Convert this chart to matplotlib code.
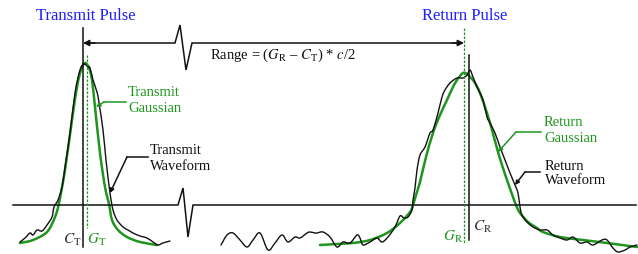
import matplotlib
matplotlib.use("Agg")
import matplotlib.pyplot as plt
from matplotlib.path import Path
from matplotlib.patches import PathPatch

plt.rcParams['font.family'] = ['Liberation Serif', 'DejaVu Serif']
plt.rcParams['mathtext.fontset'] = 'stix'

# ---- data (in picture units) ----
transmit_wave_x = [20, 25, 30, 33, 37, 42, 47, 52, 54, 58, 62, 65, 70, 75, 80, 84, 88, 90, 93, 97,
                   99, 103, 106, 110, 113, 117, 123, 128, 133, 140, 147, 153, 158, 163, 170]
transmit_wave_y = [242, 238, 233, 235, 230, 231, 225, 217, 207, 200, 187, 167, 133, 93, 70, 64, 67, 68, 80, 92,
                   103, 130, 160, 193, 210, 220, 227, 230, 233, 236, 238, 242, 245, 243, 241]

transmit_gauss_x = [20, 33, 47, 55, 59, 65, 72, 77, 81, 85, 89, 92, 95, 100, 105, 109, 112, 118, 127, 140, 157]
transmit_gauss_y = [243, 240, 232, 217, 203, 170, 120, 87, 70, 63, 68, 80, 107, 153, 187, 204, 220, 230, 237, 242, 245]

return_wave_x = [221, 227, 233, 240, 247, 253, 260, 268, 275, 282, 288, 295, 300, 307, 310, 315, 317, 323, 330,
                 337, 343, 350, 357, 360, 363, 370, 377, 382, 388, 395, 400, 404, 408, 412, 413, 415, 417, 420, 425,
                 430, 433, 438, 442, 445, 450, 457, 463, 467, 470, 473, 477, 480, 483, 487, 490, 495, 500, 505,
                 510, 515, 518, 520, 522, 527, 533, 540, 547, 553, 560, 567, 573, 580, 587, 593, 602, 607, 613,
                 618, 625, 630, 637]
return_wave_y = [245, 235, 233, 240, 247, 240, 233, 250, 243, 235, 242, 237, 238, 233, 232, 233, 233, 232, 237,
                 247, 242, 243, 235, 238, 245, 242, 238, 242, 237, 227, 216, 218, 217, 210, 200, 188, 170, 155, 147,
                 133, 130, 113, 97, 90, 83, 78, 78, 75, 70, 77, 87, 93, 100, 117, 123, 133, 147, 160,
                 173, 185, 193, 207, 215, 222, 227, 230, 230, 235, 238, 240, 237, 243, 242, 245, 240, 240, 248,
                 252, 250, 247, 245]

return_gauss_x = [320, 337, 353, 370, 387, 400, 410, 413, 416, 420, 426, 433, 440, 447, 452, 457, 463, 467, 471,
                  475, 480, 487, 492, 498, 503, 507, 513, 516, 520, 528, 537, 543, 560, 583, 607, 637]
return_gauss_y = [245, 244, 243, 240, 233, 223, 212, 205, 195, 182, 157, 133, 115, 100, 89, 80, 73, 74, 78,
                  83, 93, 113, 130, 152, 168, 180, 197, 205, 213, 222, 228, 232, 237, 240, 243, 247]

# ---- figure ----
fig = plt.figure(figsize=(6.38, 2.54), dpi=100)
ax = fig.add_axes([0, 0, 1, 1])
ax.set_xlim(0, 638)
ax.set_ylim(254, 0)
ax.axis('off')

green = '#1e961e'
blue = '#1f1fff'
black = '#111111'


def smooth_curve(xs, ys, color, lw):
    """Draw a Catmull-Rom style cubic Bezier path through the read points."""
    pts = list(zip(xs, ys))
    n = len(pts)
    verts = [pts[0]]
    codes = [Path.MOVETO]
    for i in range(n - 1):
        p0 = pts[max(i - 1, 0)]
        p1 = pts[i]
        p2 = pts[i + 1]
        p3 = pts[min(i + 2, n - 1)]
        c1 = (p1[0] + (p2[0] - p0[0]) / 6.0, p1[1] + (p2[1] - p0[1]) / 6.0)
        c2 = (p2[0] - (p3[0] - p1[0]) / 6.0, p2[1] - (p3[1] - p1[1]) / 6.0)
        verts += [c1, c2, p2]
        codes += [Path.CURVE4] * 3
    ax.add_patch(PathPatch(Path(verts, codes), facecolor='none', edgecolor=color, lw=lw,
                           joinstyle='round', capstyle='round'))


# baseline with break
ax.plot([13, 178, 183, 188, 193, 636], [205, 205, 188, 237, 205, 205], color=black, lw=1.1,
        solid_joinstyle='miter')
# range arrow line with break
ax.plot([86, 175, 180, 186, 192, 461], [43, 43, 25, 70, 43, 43], color=black, lw=1.1,
        solid_joinstyle='miter')
ax.annotate('', xy=(83, 43), xytext=(95, 43),
            arrowprops=dict(arrowstyle='-|>', color=black, lw=1.1, mutation_scale=9,
                            shrinkA=0, shrinkB=0))
ax.annotate('', xy=(464, 43), xytext=(452, 43),
            arrowprops=dict(arrowstyle='-|>', color=black, lw=1.1, mutation_scale=9,
                            shrinkA=0, shrinkB=0))

# vertical marker lines
ax.plot([82.5, 82.5], [28, 247], color=black, lw=1.1)
ax.plot([86.5, 86.5], [55, 228], color=green, lw=0.9, dashes=(2, 1.2))
ax.plot([469, 469], [55, 240], color=black, lw=1.1)
ax.plot([463.5, 463.5], [28, 243], color=green, lw=0.9, dashes=(2, 1.2))

# curves
smooth_curve(transmit_gauss_x, transmit_gauss_y, green, 1.8)
smooth_curve(transmit_wave_x, transmit_wave_y, black, 1.0)
smooth_curve(return_gauss_x, return_gauss_y, green, 1.8)
smooth_curve(return_wave_x, return_wave_y, black, 1.0)


# leaders
def leader(tip, elbow, end, color):
    ax.plot([elbow[0], end[0]], [elbow[1], end[1]], color=color, lw=1.1)
    ax.annotate('', xy=tip, xytext=elbow,
                arrowprops=dict(arrowstyle='-|>', color=color, lw=1.1, mutation_scale=6,
                                shrinkA=0, shrinkB=0))


leader((96, 107), (104, 102), (126, 102), green)
leader((110, 193), (127, 157), (148, 157), black)
leader((498, 152), (516, 132), (541, 132), green)
leader((515, 185), (525, 172), (540, 172), black)

fs = 10.5
ax.text(128, 93, 'Transmit', color=green, fontsize=fs, va='center', ha='left')
ax.text(128, 108, 'Gaussian', color=green, fontsize=fs, va='center', ha='left')
ax.text(150, 150, 'Transmit', color=black, fontsize=fs, va='center', ha='left')
ax.text(150, 166, 'Waveform', color=black, fontsize=fs, va='center', ha='left')
ax.text(544, 123, 'Return', color=green, fontsize=fs, va='center', ha='left')
ax.text(544, 138, 'Gaussian', color=green, fontsize=fs, va='center', ha='left')
ax.text(545, 166, 'Return', color=black, fontsize=fs, va='center', ha='left')
ax.text(545, 181, 'Waveform', color=black, fontsize=fs, va='center', ha='left')

# titles
ax.text(86, 16, 'Transmit Pulse', color=blue, fontsize=12, ha='center', va='center')
ax.text(465, 16, 'Return Pulse', color=blue, fontsize=12, ha='center', va='center')

# range label
ax.text(283, 55, r'Range = ($G_{\mathrm{R}}$ – $C_{\mathrm{T}}$) * $c$/2', color=black,
        fontsize=fs, ha='center', va='center')

# markers labels
ax.text(72, 240, r'$C_{\mathrm{T}}$', color='#333333', fontsize=11, ha='center', va='center')
ax.text(97, 240, r'$G_{\mathrm{T}}$', color=green, fontsize=11, ha='center', va='center')
ax.text(453, 237, r'$G_{\mathrm{R}}$', color=green, fontsize=11, ha='center', va='center')
ax.text(483, 227, r'$C_{\mathrm{R}}$', color='#333333', fontsize=11, ha='center', va='center')

fig.savefig('out.png', dpi=100)
